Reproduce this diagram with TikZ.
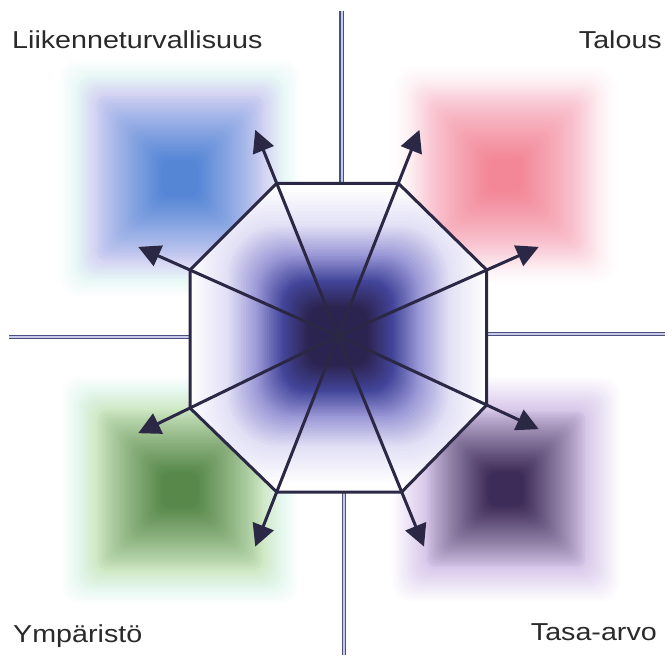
\documentclass[tikz,border=0pt]{standalone}
\usepackage{fontspec}
\setmainfont{Liberation Sans}
\usetikzlibrary{arrows.meta,calc}
\definecolor{ink}{HTML}{2B2845}
\definecolor{quad}{HTML}{4A5080}
\definecolor{quadin}{HTML}{C8CAE8}
\definecolor{txt}{HTML}{2A2A2A}
\definecolor{hubdk}{HTML}{2C2450}
\definecolor{hubbl}{HTML}{43459A}
\definecolor{hubmd}{HTML}{9A98D6}
\definecolor{hublt}{HTML}{E2E0F5}
\definecolor{bEdge}{HTML}{E8F8F6}\definecolor{bMid}{HTML}{D4D3F3}\definecolor{bCore}{HTML}{5586D6}
\definecolor{pEdge}{HTML}{FDF0F4}\definecolor{pMid}{HTML}{FAD0DB}\definecolor{pCore}{HTML}{F38797}
\definecolor{gEdge}{HTML}{E6F8F0}\definecolor{gMid}{HTML}{CFE8C4}\definecolor{gCore}{HTML}{58884A}
\definecolor{uEdge}{HTML}{EEE6F7}\definecolor{uMid}{HTML}{D8C8EA}\definecolor{uCore}{HTML}{3E2C58}
\newcommand\blurbox[7]{%
  \foreach \i in {0,...,8}{%
    \pgfmathsetmacro\fr{1-0.14*\i/8}%
    \pgfmathsetmacro\pc{\i*100/8}%
    \fill[#5!\pc!white, rounded corners=18pt] (#1-#3*\fr,#2-#4*\fr) rectangle (#1+#3*\fr,#2+#4*\fr);
  }%
  \foreach \i in {1,...,10}{%
    \pgfmathsetmacro\fr{0.86-0.16*\i/10}%
    \pgfmathsetmacro\pc{\i*100/10}%
    \fill[#6!\pc!#5, rounded corners=14pt] (#1-#3*\fr,#2-#4*\fr) rectangle (#1+#3*\fr,#2+#4*\fr);
  }%
  \foreach \i in {1,...,30}{%
    \pgfmathsetmacro\fr{0.70-0.55*\i/30}%
    \pgfmathsetmacro\pc{100*(\i/30)^0.85}%
    \fill[#7!\pc!#6, rounded corners=8pt] (#1-#3*\fr,#2-#4*\fr) rectangle (#1+#3*\fr,#2+#4*\fr);
  }%
}
% hub gradient stage: #1 r from, #2 r to, #3 outer colour, #4 inner colour
\newcommand\hubstage[4]{%
  \foreach \i in {1,...,12}{%
    \pgfmathsetmacro\rr{#1-(#1-#2)*\i/12}%
    \pgfmathsetmacro\pc{\i*100/12}%
    \pgfmathsetmacro\rc{0.45*\rr}%
    \fill[#4!\pc!#3, rounded corners=\rc pt] ($(c)+(-\rr,-\rr)$) rectangle ($(c)+(\rr,\rr)$);
  }%
}
\tikzset{
  quadline/.style={draw=quad, double=quadin, double distance=2pt, line width=1.4pt},
  spoke/.style={draw=ink, line width=3pt, -{Triangle[length=22pt,width=22pt]}},
  octo/.style={draw=ink, line width=3pt, line join=miter},
  label/.style={font=\fontsize{24.5}{29}\selectfont, text=txt, inner sep=0pt, xscale=1.17}
}
\begin{document}
\begin{tikzpicture}[x=1pt,y=-1pt]
\useasboundingbox (0,0) rectangle (668,655);
\fill[white] (0,0) rectangle (668,655);
% blurred quadrant squares
\blurbox{180}{178}{122}{120}{bEdge}{bMid}{bCore}
\blurbox{505}{175}{112}{110}{pEdge}{pMid}{pCore}
\blurbox{180}{490}{120}{116}{gEdge}{gMid}{gCore}
\blurbox{506}{489}{116}{114}{uEdge}{uMid}{uCore}
% geometry
\coordinate (c) at (338,336);
\coordinate (v1) at (276.7,183.3);
\coordinate (v2) at (398.3,183.3);
\coordinate (v3) at (486.7,270);
\coordinate (v4) at (486.7,405);
\coordinate (v5) at (401.7,492);
\coordinate (v6) at (276.7,492);
\coordinate (v7) at (190,408);
\coordinate (v8) at (190,270);
% quadrant double lines
\coordinate (qt) at (341.5,11);
\coordinate (qtb) at (341.5,183.3);
\coordinate (qb) at (344,655);
\coordinate (qbt) at (344,492);
\coordinate (ql) at (9,337);
\coordinate (qlr) at (190,337);
\coordinate (qr) at (665,334);
\coordinate (qrl) at (486.7,334);
\draw[quadline] (qt) -- (qtb);
\draw[quadline] (qb) -- (qbt);
\draw[quadline] (ql) -- (qlr);
\draw[quadline] (qr) -- (qrl);
% hub
\fill[white] (v1) -- (v2) -- (v3) -- (v4) -- (v5) -- (v6) -- (v7) -- (v8) -- cycle;
\begin{scope}
  \clip (v1) -- (v2) -- (v3) -- (v4) -- (v5) -- (v6) -- (v7) -- (v8) -- cycle;
  \hubstage{150}{112}{white}{hublt}
  \hubstage{112}{82}{hublt}{hubmd}
  \hubstage{82}{56}{hubmd}{hubbl}
  \hubstage{56}{30}{hubbl}{hubdk}
\end{scope}
% spokes
\foreach \k in {1,...,8}{
  \coordinate (t\k) at ($(c)!1.35!(v\k)$);
  \draw[spoke] (c) -- (t\k);
}
\draw[octo] (v1) -- (v2) -- (v3) -- (v4) -- (v5) -- (v6) -- (v7) -- (v8) -- cycle;
% labels
\node[label, anchor=base west] (l1) at (12,48.3) {Liikenneturvallisuus};
\node[label, anchor=base east] (l2) at (662,48.3) {Talous};
\node[label, anchor=base west] (l3) at (13,642.7) {Ympäristö};
\node[label, anchor=base east] (l4) at (657,640) {Tasa-arvo};
\end{tikzpicture}
\end{document}
